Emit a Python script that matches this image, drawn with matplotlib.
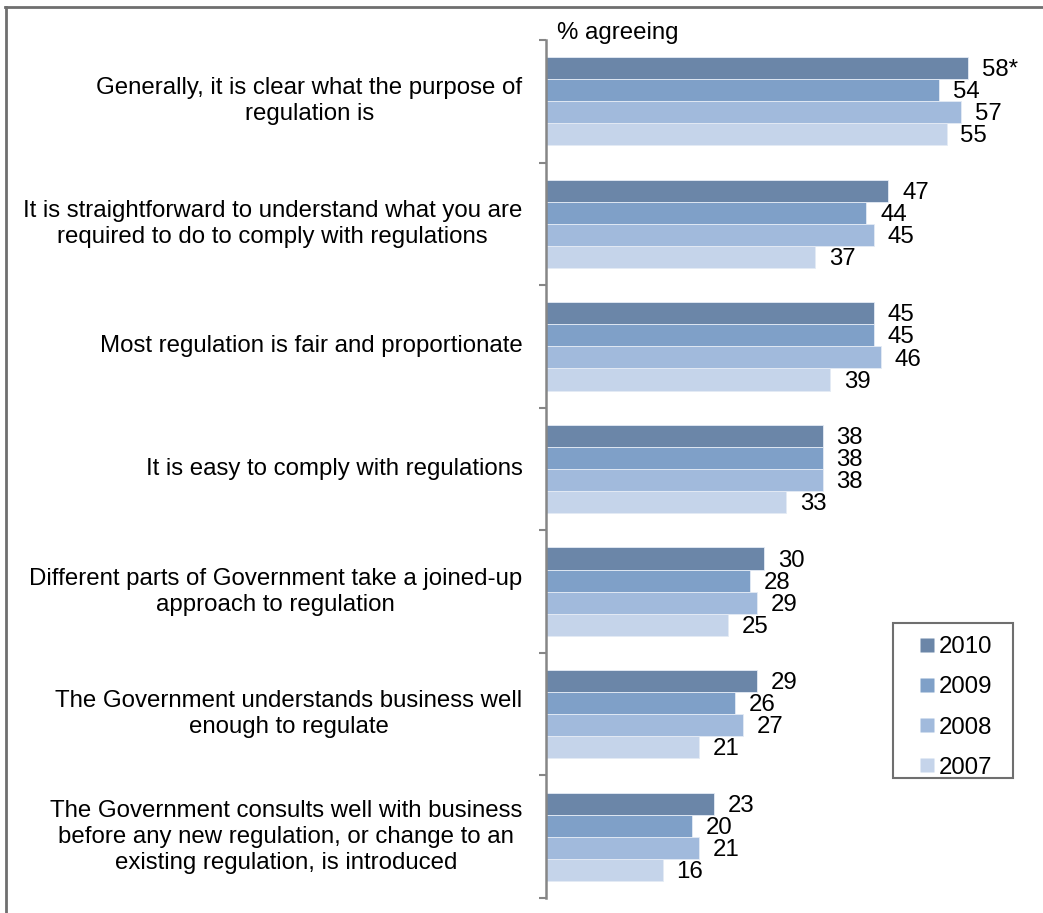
import matplotlib
matplotlib.use("Agg")
import matplotlib.pyplot as plt
from matplotlib.lines import Line2D
from matplotlib.patches import Rectangle
import numpy as np

plt.rcParams['font.family'] = ['Liberation Sans', 'DejaVu Sans']

statements = [
    "Generally, it is clear what the purpose of\nregulation is",
    "It is straightforward to understand what you are\nrequired to do to comply with regulations",
    "Most regulation is fair and proportionate",
    "It is easy to comply with regulations",
    "Different parts of Government take a joined-up\napproach to regulation",
    "The Government understands business well\nenough to regulate",
    "The Government consults well with business\nbefore any new regulation, or change to an\nexisting regulation, is introduced",
]
years = ["2010", "2009", "2008", "2007"]
values_2010 = [58, 47, 45, 38, 30, 29, 23]
values_2009 = [54, 44, 45, 38, 28, 26, 20]
values_2008 = [57, 45, 46, 38, 29, 27, 21]
values_2007 = [55, 37, 39, 33, 25, 21, 16]
value_labels_2010 = ["58*", "47", "45", "38", "30", "29", "23"]
colors = ["#6B86A8", "#7FA0C8", "#A1BADC", "#C5D4EA"]

W, H = 1043, 913
fig = plt.figure(figsize=(W / 100, H / 100), dpi=100)
ax = fig.add_axes([546 / W, 1 - 898 / H, (1015 - 546) / W, (898 - 40) / H])

series = [values_2010, values_2009, values_2008, values_2007]
label_sets = [value_labels_2010] + [[str(v) for v in s] for s in series[1:]]
n = len(statements)
y = np.arange(n)
bh = 0.18
fs = 17.3

for k, (vals, labs) in enumerate(zip(series, label_sets)):
    pos = y + (k - 1.5) * bh
    ax.barh(pos, vals, height=bh, color=colors[k], edgecolor="#E4EBF5",
            linewidth=0.6, label=years[k])
    for p, v, t in zip(pos, vals, labs):
        ax.annotate(t, (v, p), xytext=(10, -1.5), textcoords="offset points",
                    ha="left", va="center", fontsize=fs, color="black")

ax.set_ylim(n - 0.5, -0.5)
ax.set_xlim(0, 64.4)

# category labels
for i, s in enumerate(statements):
    ax.annotate(s, (0, i), xytext=(-17, 0), textcoords="offset points",
                ha="right", va="center", multialignment="center",
                fontsize=fs, color="black", linespacing=1.24,
                annotation_clip=False)

ax.set_yticks(np.arange(-0.5, n, 1.0))
ax.set_yticklabels([])
ax.tick_params(axis="y", length=5, width=1.5, color="#868686", direction="out")
ax.xaxis.set_visible(False)
for sp in ["top", "right", "bottom"]:
    ax.spines[sp].set_visible(False)
ax.spines["left"].set_color("#868686")
ax.spines["left"].set_linewidth(1.8)

fig.text(557 / W, 1 - 33 / H, "% agreeing", ha="left", va="center",
         fontsize=fs, color="black")

# legend: square markers, frame drawn separately
handles = [Line2D([], [], linestyle="none", marker="s", markersize=9.4,
                  markerfacecolor=c, markeredgecolor="none") for c in colors]
leg = ax.legend(handles, years, loc="upper left",
                bbox_to_anchor=(914 / W, 1 - 636 / H),
                bbox_transform=fig.transFigure, fontsize=fs, frameon=False,
                handlelength=1.05, handletextpad=0.0, labelspacing=0.76,
                borderpad=0, borderaxespad=0)
fig.add_artist(Rectangle((893 / W, 1 - 778 / H), (1013 - 893) / W,
                         (778 - 623) / H, transform=fig.transFigure,
                         facecolor="none", edgecolor="#6f6f6f", linewidth=1.5))

# outer frame (top and left edges)
fig.add_artist(Line2D([5 / W, 1.0], [1 - 7.5 / H, 1 - 7.5 / H],
                      transform=fig.transFigure, color="#6f6f6f", linewidth=2))
fig.add_artist(Line2D([5.5 / W, 5.5 / W], [0, 1 - 7.5 / H],
                      transform=fig.transFigure, color="#6f6f6f", linewidth=2))

fig.savefig("out.png", dpi=100, facecolor="white")
